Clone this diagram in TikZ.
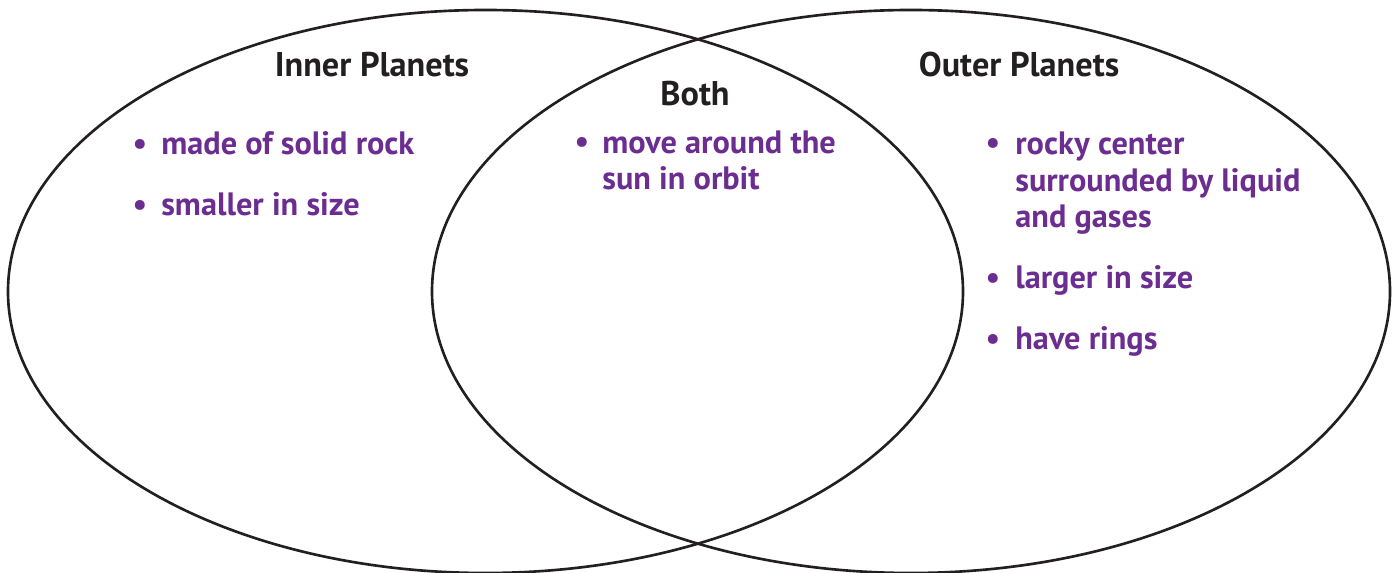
\documentclass[tikz,border=0pt]{standalone}
\usepackage{fontspec}
\setmainfont{PT Sans}
\definecolor{itempurple}{RGB}{108,45,145}
\definecolor{inkblack}{RGB}{35,31,32}
\tikzset{
  ring/.style={line width=1.5pt, draw=inkblack},
  heading/.style={font=\bfseries\fontsize{19.5}{22}\selectfont, text=inkblack, inner sep=0pt},
  fact/.style={font=\bfseries\fontsize{18.4}{21}\selectfont, text=itempurple, align=left, anchor=base west, inner sep=0pt},
  dot/.style={font=\bfseries\fontsize{18.4}{21}\selectfont, text=itempurple, anchor=base, inner sep=0pt}
}

\begin{document}
\begin{tikzpicture}[x=0.02cm,y=-0.02cm]
  \useasboundingbox (0,0) rectangle (1393,573);
  % the two sets
  \draw[ring] (485.5,291.5) ellipse [x radius=477.5, y radius=281.5];
  \draw[ring] (911,291.5) ellipse [x radius=479, y radius=281.5];
  % titles
  \node[heading] (inner) at (372,65) {Inner Planets};
  \node[heading] (outer) at (1019,65) {Outer Planets};
  \node[heading] (both) at (695,94) {Both};
  % inner planets
  \node[fact] (in1) at (161,155) {made of solid rock};
  \node[fact] (in2) at (161,216) {smaller in size};
  % both (base of a wrapped node is its last line)
  \node[fact] (bo1) at (602,190) {move around the\\sun in orbit};
  % outer planets
  \node[fact] (out1) at (1015,228) {rocky center\\surrounded by liquid\\and gases};
  \node[fact] (out2) at (1015,289) {larger in size};
  \node[fact] (out3) at (1015,350) {have rings};
  \foreach \x/\y in {140/155,140/216,582/153,993/154,993/289,993/350}
    \node[dot] at (\x,\y) {\textbullet};
\end{tikzpicture}
\end{document}
